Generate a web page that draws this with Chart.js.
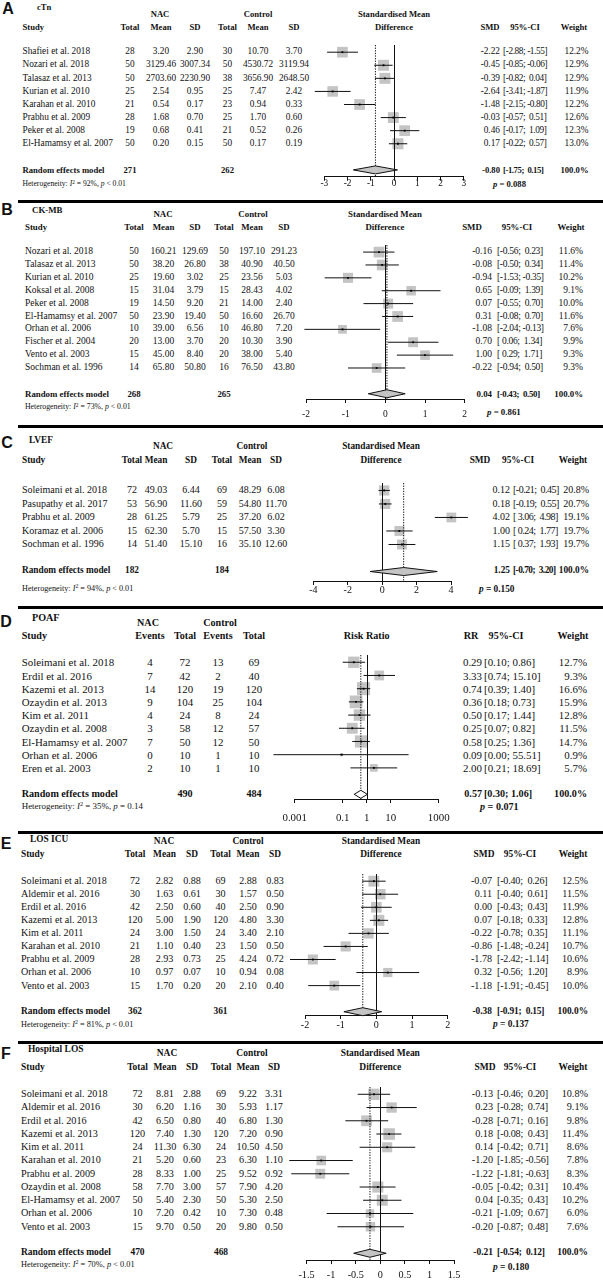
<!DOCTYPE html>
<html>
<head>
<meta charset="utf-8">
<title>NAC forest plots</title>
<script src="https://cdn.jsdelivr.net/npm/chart.js@4.4.1/dist/chart.umd.min.js"></script>
<style>
  html, body { margin: 0; padding: 0; background: #fff; }
  #page { position: relative; width: 603px; height: 1286px; overflow: hidden;
          font-family: "Liberation Serif", "Times New Roman", serif; color: #111; }
  .t { position: absolute; white-space: pre; line-height: 1; }
  .t sup { font-size: 70%; line-height: 0; vertical-align: 0.45em; }
  .sep { position: absolute; height: 3px; background: #000; right: 0; }
  canvas { position: absolute; }
</style>
</head>
<body>
<div id="page"></div>
<script>
// =======================================================
// Data
// =======================================================

// ---- A : cTn ----
const A_STUDY = ["Shafiei et al. 2018", "Nozari et al. 2018", "Talasaz et al. 2013", "Kurian et al. 2010",
                 "Karahan et al. 2010", "Prabhu et al. 2009", "Peker et al. 2008", "El-Hamamsy et al. 2007"];
const A_NAC_N    = [28, 50, 50, 25, 21, 28, 19, 50];
const A_NAC_MEAN = [3.20, 3129.46, 2703.60, 2.54, 0.54, 1.68, 0.68, 0.20];
const A_NAC_SD   = [2.90, 3007.34, 2230.90, 0.95, 0.17, 0.70, 0.41, 0.15];
const A_CTL_N    = [30, 50, 38, 25, 23, 25, 21, 50];
const A_CTL_MEAN = [10.70, 4530.72, 3656.90, 7.47, 0.94, 1.70, 0.52, 0.17];
const A_CTL_SD   = [3.70, 3119.94, 2648.50, 2.42, 0.33, 0.60, 0.26, 0.19];
const A_SMD = [-2.22, -0.45, -0.39, -2.64, -1.48, -0.03, 0.46, 0.17];
const A_LO  = [-2.88, -0.85, -0.82, -3.41, -2.15, -0.57, -0.17, -0.22];
const A_HI  = [-1.55, -0.06, 0.04, -1.87, -0.80, 0.51, 1.09, 0.57];
const A_WT  = [12.2, 12.9, 12.9, 11.9, 12.2, 12.6, 12.3, 13.0];
const A_POOL  = [-0.80, -1.75, 0.15];
const A_TOTAL = [271, 262];
const A_HET   = ["92%", "< 0.01"];
const A_PVAL  = "0.088";
const A_TICKS = [-3, -2, -1, 0, 1, 2, 3];

// ---- B : CK-MB ----
const B_STUDY = ["Nozari et al. 2018", "Talasaz et al. 2013", "Kurian et al. 2010", "Koksal et al. 2008",
                 "Peker et al. 2008", "El-Hamamsy et al. 2007", "Orhan et al. 2006", "Fischer et al. 2004",
                 "Vento et al. 2003", "Sochman et al. 1996"];
const B_NAC_N    = [50, 50, 25, 15, 19, 50, 10, 20, 15, 14];
const B_NAC_MEAN = [160.21, 38.20, 19.60, 31.04, 14.50, 23.90, 39.00, 13.00, 45.00, 65.80];
const B_NAC_SD   = [129.69, 26.80, 3.02, 3.79, 9.20, 19.40, 6.56, 3.70, 8.40, 50.80];
const B_CTL_N    = [50, 38, 25, 15, 21, 50, 10, 20, 20, 16];
const B_CTL_MEAN = [197.10, 40.90, 23.56, 28.43, 14.00, 16.60, 46.80, 10.30, 38.00, 76.50];
const B_CTL_SD   = [291.23, 40.50, 5.03, 4.02, 2.40, 26.70, 7.20, 3.90, 5.40, 43.80];
const B_SMD = [-0.16, -0.08, -0.94, 0.65, 0.07, 0.31, -1.08, 0.70, 1.00, -0.22];
const B_LO  = [-0.56, -0.50, -1.53, -0.09, -0.55, -0.08, -2.04, 0.06, 0.29, -0.94];
const B_HI  = [0.23, 0.34, -0.35, 1.39, 0.70, 0.70, -0.13, 1.34, 1.71, 0.50];
const B_WT  = [11.6, 11.4, 10.2, 9.1, 10.0, 11.6, 7.6, 9.9, 9.3, 9.3];
const B_POOL  = [0.04, -0.43, 0.50];
const B_TOTAL = [268, 265];
const B_HET   = ["73%", "< 0.01"];
const B_PVAL  = "0.861";
const B_TICKS = [-2, -1, 0, 1, 2];

// ---- C : LVEF ----
const C_STUDY = ["Soleimani et al. 2018", "Pasupathy et al. 2017", "Prabhu et al. 2009",
                 "Koramaz et al. 2006", "Sochman et al. 1996"];
const C_NAC_N    = [72, 53, 28, 15, 14];
const C_NAC_MEAN = [49.03, 56.90, 61.25, 62.30, 51.40];
const C_NAC_SD   = [6.44, 11.60, 5.79, 5.70, 15.10];
const C_CTL_N    = [69, 59, 25, 15, 16];
const C_CTL_MEAN = [48.29, 54.80, 37.20, 57.50, 35.10];
const C_CTL_SD   = [6.08, 11.70, 6.02, 3.30, 12.60];
const C_SMD = [0.12, 0.18, 4.02, 1.00, 1.15];
const C_LO  = [-0.21, -0.19, 3.06, 0.24, 0.37];
const C_HI  = [0.45, 0.55, 4.98, 1.77, 1.93];
const C_WT  = [20.8, 20.7, 19.1, 19.7, 19.7];
const C_POOL  = [1.25, -0.70, 3.20];
const C_TOTAL = [182, 184];
const C_HET   = ["94%", "< 0.01"];
const C_PVAL  = "0.150";
const C_TICKS = [-4, -2, 0, 2, 4];

// ---- D : POAF ----
const D_STUDY = ["Soleimani et al. 2018", "Erdil et al. 2016", "Kazemi et al. 2013", "Ozaydin et al. 2013",
                 "Kim et al. 2011", "Ozaydin et al. 2008", "El-Hamamsy et al. 2007", "Orhan et al. 2006",
                 "Eren et al. 2003"];
const D_NAC_EV  = [4, 7, 14, 9, 4, 3, 7, 0, 2];
const D_NAC_N   = [72, 42, 120, 104, 24, 58, 50, 10, 10];
const D_CTL_EV  = [13, 2, 19, 25, 8, 12, 12, 1, 1];
const D_CTL_N   = [69, 40, 120, 104, 24, 57, 50, 10, 10];
const D_RR  = [0.29, 3.33, 0.74, 0.36, 0.50, 0.25, 0.58, 0.09, 2.00];
const D_LO  = [0.10, 0.74, 0.39, 0.18, 0.17, 0.07, 0.25, 0.00013, 0.21];
const D_HI  = [0.86, 15.10, 1.40, 0.73, 1.44, 0.82, 1.36, 55.51, 18.69];
const D_WT  = [12.7, 9.3, 16.6, 15.9, 12.8, 11.5, 14.7, 0.9, 5.7];
const D_POOL  = [0.57, 0.30, 1.06];
const D_TOTAL = [490, 484];
const D_HET   = ["35%", "= 0.14"];
const D_PVAL  = "0.071";
const D_TICKS = [0.001, 0.1, 1, 10, 1000];

// ---- E : LOS ICU ----
const E_STUDY = ["Soleimani et al. 2018", "Aldemir et al. 2016", "Erdil et al. 2016", "Kazemi et al. 2013",
                 "Kim et al. 2011", "Karahan et al. 2010", "Prabhu et al. 2009", "Orhan et al. 2006",
                 "Vento et al. 2003"];
const E_NAC_N    = [72, 30, 42, 120, 24, 21, 28, 10, 15];
const E_NAC_MEAN = [2.82, 1.63, 2.50, 5.00, 3.00, 1.10, 2.93, 0.97, 1.70];
const E_NAC_SD   = [0.88, 0.61, 0.60, 1.90, 1.50, 0.40, 0.73, 0.07, 0.20];
const E_CTL_N    = [69, 30, 40, 120, 24, 23, 25, 10, 20];
const E_CTL_MEAN = [2.88, 1.57, 2.50, 4.80, 3.40, 1.50, 4.24, 0.94, 2.10];
const E_CTL_SD   = [0.83, 0.50, 0.90, 3.30, 2.10, 0.50, 0.72, 0.08, 0.40];
const E_SMD = [-0.07, 0.11, 0.00, 0.07, -0.22, -0.86, -1.78, 0.32, -1.18];
const E_LO  = [-0.40, -0.40, -0.43, -0.18, -0.78, -1.48, -2.42, -0.56, -1.91];
const E_HI  = [0.26, 0.61, 0.43, 0.33, 0.35, -0.24, -1.14, 1.20, -0.45];
const E_WT  = [12.5, 11.5, 11.9, 12.8, 11.1, 10.7, 10.6, 8.9, 10.0];
const E_POOL  = [-0.38, -0.91, 0.15];
const E_TOTAL = [362, 361];
const E_HET   = ["81%", "< 0.01"];
const E_PVAL  = "0.137";
const E_TICKS = [-2, -1, 0, 1, 2];

// ---- F : Hospital LOS ----
const F_STUDY = ["Soleimani et al. 2018", "Aldemir et al. 2016", "Erdil et al. 2016", "Kazemi et al. 2013",
                 "Kim et al. 2011", "Karahan et al. 2010", "Prabhu et al. 2009", "Ozaydin et al. 2008",
                 "El-Hamamsy et al. 2007", "Orhan et al. 2006", "Vento et al. 2003"];
const F_NAC_N    = [72, 30, 42, 120, 24, 21, 28, 58, 50, 10, 15];
const F_NAC_MEAN = [8.81, 6.20, 6.50, 7.40, 11.30, 5.20, 8.33, 7.70, 5.40, 7.20, 9.70];
const F_NAC_SD   = [2.88, 1.16, 0.80, 1.30, 6.30, 0.60, 1.00, 3.00, 2.30, 0.42, 0.50];
const F_CTL_N    = [69, 30, 40, 120, 24, 23, 25, 57, 50, 10, 20];
const F_CTL_MEAN = [9.22, 5.93, 6.80, 7.20, 10.50, 6.30, 9.52, 7.90, 5.30, 7.30, 9.80];
const F_CTL_SD   = [3.31, 1.17, 1.30, 0.90, 4.50, 1.10, 0.92, 4.20, 2.50, 0.48, 0.50];
const F_SMD = [-0.13, 0.23, -0.28, 0.18, 0.14, -1.20, -1.22, -0.05, 0.04, -0.21, -0.20];
const F_LO  = [-0.46, -0.28, -0.71, -0.08, -0.42, -1.85, -1.81, -0.42, -0.35, -1.09, -0.87];
const F_HI  = [0.20, 0.74, 0.16, 0.43, 0.71, -0.56, -0.63, 0.31, 0.43, 0.67, 0.48];
const F_WT  = [10.8, 9.1, 9.8, 11.4, 8.6, 7.8, 8.3, 10.4, 10.2, 6.0, 7.6];
const F_POOL  = [-0.21, -0.54, 0.12];
const F_TOTAL = [470, 468];
const F_HET   = ["70%", "< 0.01"];
const F_PVAL  = "0.180";
const F_TICKS = [-1.5, -1, -0.5, 0, 0.5, 1, 1.5];


// =======================================================
// Panels
// =======================================================

function smdCols(n1, m1, s1, n2, m2, s2) {
    return [
        { head: "Total", v: n1, d: 0 }, { head: "Mean", v: m1, d: 2 }, { head: "SD", v: s1, d: 2 },
        { head: "Total", v: n2, d: 0 }, { head: "Mean", v: m2, d: 2 }, { head: "SD", v: s2, d: 2 }
    ];
}

const SMD_TITLE = ["Standardised Mean", "Difference"];

const PANELS = [
    { letter: "A", title: "cTn", study: A_STUDY, cols: smdCols(A_NAC_N, A_NAC_MEAN, A_NAC_SD, A_CTL_N, A_CTL_MEAN, A_CTL_SD),
      totalAt: [0, 3], est: A_SMD, lo: A_LO, hi: A_HI, wt: A_WT, pool: A_POOL, total: A_TOTAL, het: A_HET, p: A_PVAL,
      ticks: A_TICKS, log: false, measure: "SMD", plotTitle: SMD_TITLE },
    { letter: "B", title: "CK-MB", study: B_STUDY, cols: smdCols(B_NAC_N, B_NAC_MEAN, B_NAC_SD, B_CTL_N, B_CTL_MEAN, B_CTL_SD),
      totalAt: [0, 3], est: B_SMD, lo: B_LO, hi: B_HI, wt: B_WT, pool: B_POOL, total: B_TOTAL, het: B_HET, p: B_PVAL,
      ticks: B_TICKS, log: false, measure: "SMD", plotTitle: SMD_TITLE },
    { letter: "C", title: "LVEF", study: C_STUDY, cols: smdCols(C_NAC_N, C_NAC_MEAN, C_NAC_SD, C_CTL_N, C_CTL_MEAN, C_CTL_SD),
      totalAt: [0, 3], est: C_SMD, lo: C_LO, hi: C_HI, wt: C_WT, pool: C_POOL, total: C_TOTAL, het: C_HET, p: C_PVAL,
      ticks: C_TICKS, log: false, measure: "SMD", plotTitle: SMD_TITLE },
    { letter: "D", title: "POAF", study: D_STUDY,
      cols: [{ head: "Events", v: D_NAC_EV, d: 0 }, { head: "Total", v: D_NAC_N, d: 0 },
             { head: "Events", v: D_CTL_EV, d: 0 }, { head: "Total", v: D_CTL_N, d: 0 }],
      totalAt: [1, 3], est: D_RR, lo: D_LO, hi: D_HI, wt: D_WT, pool: D_POOL, total: D_TOTAL, het: D_HET, p: D_PVAL,
      ticks: D_TICKS, log: true, measure: "RR", plotTitle: [null, "Risk Ratio"] },
    { letter: "E", title: "LOS ICU", study: E_STUDY, cols: smdCols(E_NAC_N, E_NAC_MEAN, E_NAC_SD, E_CTL_N, E_CTL_MEAN, E_CTL_SD),
      totalAt: [0, 3], est: E_SMD, lo: E_LO, hi: E_HI, wt: E_WT, pool: E_POOL, total: E_TOTAL, het: E_HET, p: E_PVAL,
      ticks: E_TICKS, log: false, measure: "SMD", plotTitle: SMD_TITLE },
    { letter: "F", title: "Hospital LOS", study: F_STUDY, cols: smdCols(F_NAC_N, F_NAC_MEAN, F_NAC_SD, F_CTL_N, F_CTL_MEAN, F_CTL_SD),
      totalAt: [0, 3], est: F_SMD, lo: F_LO, hi: F_HI, wt: F_WT, pool: F_POOL, total: F_TOTAL, het: F_HET, p: F_PVAL,
      ticks: F_TICKS, log: false, measure: "SMD", plotTitle: SMD_TITLE }
];

// positions of every panel on the page (pixels)
const LAYOUT = [
    { fs: 9.3, sepY: null, letterXY: [8, 9], titleXY: [37, 7], groupY: 14, headY: 27, studyX: 22.5,
      colX: [130, 161, 195, 227.5, 258, 294], groupX: [160, 258], row0: 52.3, pitch: 13.1, hetY: 184,
      estR: 500, ciL: 503, wR: 588.5, headX: [490, 525, 574], pXY: [493, 184], ciSpace: -0.4,
      plotX: 394, axisY: 177, labelY: 184.3, px: [324.3, 463.7], sq: 7.8, fill: "#c4c4c4" },
    { fs: 9.5, sepY: 201, letterXY: [7, 210], titleXY: [32, 210], groupY: 214, headY: 226.5, studyX: 25,
      colX: [134, 163.5, 195, 224, 252, 284], groupX: [163, 253], row0: 252.3, pitch: 12.86, hetY: 407,
      estR: 492, ciL: 497, wR: 583, headX: [472, 517, 571], pXY: [487, 412], ciSpace: -0.3,
      plotX: 385, axisY: 399, labelY: 414, px: [306, 464.7], sq: 7.6, fill: "#c4c4c4" },
    { fs: 10, sepY: 426, letterXY: [7, 443], titleXY: [29, 441], groupY: 447, headY: 461, studyX: 22,
      colX: [132, 156, 191, 222, 250, 276], groupX: [163, 252], row0: 490, pitch: 13.58, hetY: 589,
      estR: 510, ciL: 513, wR: 589, headX: [480, 518, 573], pXY: [479, 590], ciSpace: -0.5,
      plotX: 381, axisY: 581, labelY: 590, px: [313.3, 451], sq: 7.2, fill: "#c4c4c4" },
    { fs: 10.9, sepY: 607, letterXY: [6, 622], titleXY: [32, 618], groupY: 623, headY: 636, studyX: 21.7,
      colX: [150, 185, 218, 254], groupX: [148, 220], row0: 662.3, pitch: 13.2, hetY: 806,
      estR: 482, ciL: 484, wR: 587, headX: [471, 506, 573], pXY: [480, 807], ciSpace: 0,
      plotX: 366.7, axisY: 799, labelY: 818, px: [294.7, 438.7], sq: 9.2, fill: "#ffffff" },
    { fs: 10.1, sepY: 832, letterXY: [6, 844], titleXY: [30, 840], groupY: 842, headY: 855, studyX: 21,
      colX: [135, 164.5, 192, 220.5, 248, 275], groupX: [164, 248], row0: 881, pitch: 13.07, hetY: 1025,
      estR: 492, ciL: 497, wR: 588, headX: [484, 520, 573], pXY: [493, 1025], ciSpace: -0.2,
      plotX: 381, axisY: 1015, labelY: 1025, px: [305, 447.7], sq: 7.8, fill: "#c4c4c4" },
    { fs: 10.2, sepY: 1042, letterXY: [6, 1054], titleXY: [28, 1050], groupY: 1054, headY: 1067.7, studyX: 21,
      colX: [137.5, 165, 192, 221, 248, 274], groupX: [167, 252], row0: 1094, pitch: 13.27, hetY: 1265,
      estR: 493, ciL: 497, wR: 588, headX: [485, 520, 573], pXY: [493, 1268], ciSpace: -0.2,
      plotX: 380.3, axisY: 1260, labelY: 1275, px: [306.5, 454.1], sq: 8.2, fill: "#c4c4c4" }
];


// =======================================================
// Text helpers
// =======================================================

const page = document.getElementById("page");
const SERIF = '"Liberation Serif", "Times New Roman", serif';

function txt(x, y, s, o = {}) {
    const d = document.createElement("div");
    d.className = "t";
    d.style.left = x + "px";
    d.style.top = y + "px";
    d.style.fontSize = (o.size || 10) + "px";
    if (o.bold) d.style.fontWeight = "bold";
    if (o.sans) d.style.fontFamily = '"Liberation Sans", Arial, sans-serif';
    if (o.spacing) d.style.letterSpacing = o.spacing + "px";
    const tx = o.align === "center" ? "-50%" : o.align === "right" ? "-100%" : "0";
    d.style.transform = "translate(" + tx + ",-50%)";
    if (o.html) d.innerHTML = s; else d.textContent = s;
    page.appendChild(d);
}

function ciText(lo, hi, signed) {
    const f = v => (signed && v >= 0 ? " " : "") + v.toFixed(2);
    return "[" + f(lo) + "; " + f(hi) + "]";
}


// =======================================================
// Forest plot drawn with Chart.js
// =======================================================

const forestMarks = {
    id: "forestMarks",
    afterDatasetsDraw(chart, args, o) {
        const { ctx, chartArea: a, scales: { x, y } } = chart;
        ctx.save();
        ctx.strokeStyle = "#111";
        ctx.lineWidth = 1;

        // line of no effect
        const x0 = Math.round(x.getPixelForValue(o.nullValue)) + 0.5;
        ctx.beginPath(); ctx.moveTo(x0, a.top); ctx.lineTo(x0, a.bottom); ctx.stroke();

        // pooled estimate (dotted)
        const xe = x.getPixelForValue(o.pool[0]);
        ctx.setLineDash([1.3, 1.3]);
        ctx.beginPath(); ctx.moveTo(xe, a.top); ctx.lineTo(xe, a.bottom); ctx.stroke();
        ctx.setLineDash([]);

        // summary diamond
        const yp = y.getPixelForValue(o.poolRow);
        const xl = x.getPixelForValue(o.pool[1]);
        const xh = x.getPixelForValue(o.pool[2]);
        ctx.beginPath();
        ctx.moveTo(xl, yp); ctx.lineTo(xe, yp - 4); ctx.lineTo(xh, yp); ctx.lineTo(xe, yp + 4);
        ctx.closePath();
        ctx.fillStyle = o.fill;
        ctx.fill();
        ctx.stroke();
        ctx.restore();
    }
};

function drawForest(P, L) {

    const n = P.study.length;
    const cLeft = 255, cRight = 485;
    const yMin = -0.55;
    const topLine = L.row0 + yMin * L.pitch;
    const cTop = topLine - 10;
    const axisH = L.labelY - L.axisY + 9;
    const W = cRight - cLeft;
    const H = Math.round(L.axisY - cTop + axisH);

    const cv = document.createElement("canvas");
    cv.width = W; cv.height = H;
    cv.style.left = cLeft + "px"; cv.style.top = cTop + "px";
    cv.style.width = W + "px"; cv.style.height = H + "px";
    page.appendChild(cv);

    const rows = P.study.map((s, i) => i);
    const ciData = [];
    rows.forEach(i => {
        ciData.push({ x: P.lo[i], y: i }, { x: P.hi[i], y: i }, { x: P.hi[i], y: null });
    });
    const estData = rows.map(i => ({ x: P.est[i], y: i }));
    const maxW = Math.max(...P.wt);
    const sqRadius = rows.map(i => L.sq * Math.sqrt(P.wt[i] / maxW));

    new Chart(cv, {
        type: "line",
        data: {
            datasets: [
                { data: estData, showLine: false, pointStyle: "rect", pointRadius: sqRadius,
                  pointBackgroundColor: "#c4c4c4", pointBorderWidth: 0, order: 3, clip: false },
                { data: ciData, borderColor: "#111", borderWidth: 1, pointRadius: 0, spanGaps: false,
                  order: 2, clip: false },
                { data: estData, showLine: false, pointStyle: "rect", pointRadius: 1.3,
                  pointBackgroundColor: "#000", pointBorderWidth: 0, order: 1, clip: false }
            ]
        },
        options: {
            responsive: false,
            animation: false,
            events: [],
            layout: { padding: { left: L.px[0] - cLeft, right: cRight - L.px[1], top: 10, bottom: 0 } },
            plugins: {
                legend: { display: false },
                tooltip: { enabled: false },
                forestMarks: { nullValue: P.log ? 1 : 0, pool: P.pool, poolRow: n + 1, fill: L.fill }
            },
            scales: {
                x: {
                    type: P.log ? "logarithmic" : "linear",
                    min: P.ticks[0],
                    max: P.ticks[P.ticks.length - 1],
                    afterBuildTicks: s => { s.ticks = P.ticks.map(v => ({ value: v })); },
                    afterFit: s => { s.height = axisH; },
                    grid: { display: true, drawOnChartArea: false, drawTicks: true, tickLength: 4,
                            color: "#111", tickColor: "#111", lineWidth: 1 },
                    border: { display: true, color: "#111", width: 1 },
                    ticks: { color: "#111", font: { family: SERIF, size: L.fs }, maxRotation: 0,
                             autoSkip: false, padding: L.labelY - L.axisY - 4 - 0.6 * L.fs,
                             callback: v => String(v) }
                },
                y: { type: "linear", reverse: true, display: false,
                     min: yMin, max: (L.axisY - L.row0) / L.pitch }
            }
        },
        plugins: [forestMarks]
    });
}


// =======================================================
// Panel drawing
// =======================================================

function drawPanel(P, L) {

    const n = P.study.length;
    const rowY = i => L.row0 + i * L.pitch;
    const fs = L.fs;
    const hs = fs * 0.93;          // bold headers are set a little tighter
    const signed = !P.log;

    if (L.sepY !== null) {
        const s = document.createElement("div");
        s.className = "sep";
        s.style.left = "18px";
        s.style.top = (L.sepY - 1.5) + "px";
        page.appendChild(s);
    }

    txt(L.letterXY[0], L.letterXY[1], P.letter, { size: 16, bold: true, sans: true, align: "center" });
    txt(L.titleXY[0], L.titleXY[1], P.title, { size: hs, bold: true });

    txt(L.groupX[0], L.groupY, "NAC", { size: hs, bold: true, align: "center" });
    txt(L.groupX[1], L.groupY, "Control", { size: hs, bold: true, align: "center" });
    txt(L.studyX, L.headY, "Study", { size: hs, bold: true });
    P.cols.forEach((c, j) => txt(L.colX[j], L.headY, c.head, { size: hs, bold: true, align: "center" }));

    if (P.plotTitle[0]) txt(L.plotX, L.groupY, P.plotTitle[0], { size: hs, bold: true, align: "center" });
    txt(L.plotX, L.headY, P.plotTitle[1], { size: hs, bold: true, align: "center" });

    txt(L.headX[0], L.headY, P.measure, { size: hs, bold: true, align: "center" });
    txt(L.headX[1], L.headY, "95%-CI", { size: hs, bold: true, align: "center" });
    txt(L.headX[2], L.headY, "Weight", { size: hs, bold: true, align: "center" });

    P.study.forEach((s, i) => {
        const y = rowY(i);
        txt(L.studyX, y, s, { size: fs });
        P.cols.forEach((c, j) => txt(L.colX[j], y, c.v[i].toFixed(c.d), { size: fs, align: "center" }));
        txt(L.estR, y, P.est[i].toFixed(2), { size: fs, align: "right" });
        txt(L.ciL, y, ciText(P.lo[i], P.hi[i], signed), { size: fs, spacing: L.ciSpace });
        txt(L.wR, y, P.wt[i].toFixed(1) + "%", { size: fs, align: "right" });
    });

    const py = rowY(n + 1);
    txt(L.studyX, py, "Random effects model", { size: hs, bold: true });
    P.totalAt.forEach((j, k) => txt(L.colX[j], py, String(P.total[k]), { size: hs, bold: true, align: "center" }));
    txt(L.estR, py, P.pool[0].toFixed(2), { size: hs, bold: true, align: "right" });
    txt(L.ciL, py, ciText(P.pool[1], P.pool[2], signed), { size: hs, bold: true, spacing: L.ciSpace });
    txt(L.wR, py, "100.0%", { size: hs, bold: true, align: "right" });

    txt(L.studyX, L.hetY,
        "Heterogeneity: <i>I</i><sup>2</sup> = " + P.het[0] + ", <i>p</i> " + P.het[1].replace("<", "&lt;"),
        { size: fs * 0.82, html: true });
    txt(L.pXY[0], L.pXY[1], "<i>p</i> = " + P.p, { size: hs, bold: true, html: true });

    drawForest(P, L);
}

PANELS.forEach((P, k) => drawPanel(P, LAYOUT[k]));
</script>
</body>
</html>
